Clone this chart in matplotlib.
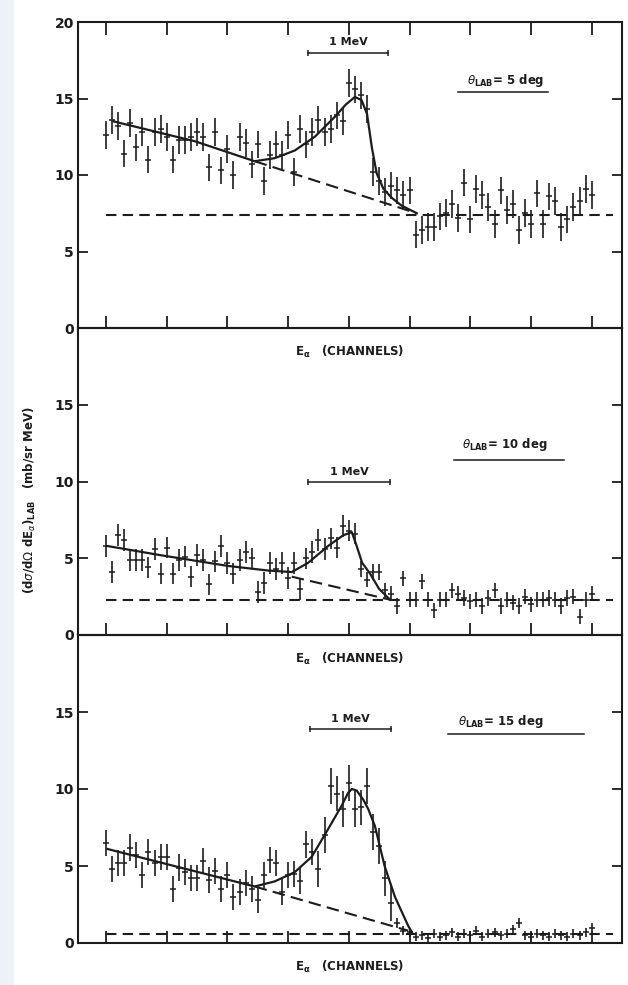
import numpy as np
import matplotlib.pyplot as plt
from matplotlib.patches import Rectangle

# channel index of each measured point
channel = np.arange(81)

# theta_lab = 5 deg
counts_5 = [12.6, 13.6, 13.2, 11.4, 13.4, 11.8, 12.8, 11.0, 12.8, 13.0,
            12.5, 11.0, 12.3, 12.3, 12.5, 12.8, 12.5, 10.5, 12.8, 10.3,
            11.7, 10.0, 12.5, 12.1, 10.7, 12.0, 9.6, 11.3, 12.0, 11.3,
            12.6, 10.2, 13.0, 12.0, 12.8, 13.6, 12.8, 13.0, 13.9, 13.5,
            16.0, 15.6, 15.2, 14.3, 10.2, 9.6, 8.9, 9.3, 9.0, 8.7,
            9.0, 6.1, 6.4, 6.6, 6.6, 7.3, 7.5, 8.1, 7.2, 9.5,
            7.1, 9.1, 8.7, 7.9, 6.8, 9.0, 7.7, 8.1, 6.4, 7.5,
            6.8, 8.8, 6.8, 8.6, 8.3, 6.6, 7.1, 7.9, 8.3, 9.1, 8.7]
err_5 = [0.9] * 81

# theta_lab = 10 deg
counts_10 = [5.8, 4.1, 6.5, 6.2, 4.9, 4.9, 4.9, 4.4, 5.6, 4.0,
             5.7, 4.0, 4.9, 5.1, 3.8, 5.2, 4.9, 3.3, 4.8, 5.8,
             4.7, 4.0, 4.9, 5.4, 5.0, 2.8, 3.4, 4.7, 4.3, 4.7,
             3.7, 4.7, 3.0, 5.0, 5.4, 6.2, 5.6, 6.3, 5.7, 7.1,
             6.8, 6.6, 4.3, 3.6, 4.1, 4.1, 2.9, 2.7, 1.9, 3.7,
             2.3, 2.3, 3.5, 2.3, 1.6, 2.3, 2.3, 2.9, 2.7, 2.4,
             2.2, 2.3, 1.9, 2.4, 2.9, 1.9, 2.3, 2.1, 1.9, 2.5,
             2.0, 2.3, 2.3, 2.4, 2.3, 1.9, 2.4, 2.5, 1.2, 2.3, 2.7]
err_10 = [0.7] * 42 + [0.5] * 39

# theta_lab = 15 deg
counts_15 = [6.5, 4.8, 5.2, 5.2, 6.2, 5.7, 4.4, 5.9, 5.2, 5.6,
             5.6, 3.5, 4.9, 4.6, 4.2, 4.2, 5.3, 4.1, 4.7, 3.5,
             4.4, 3.0, 3.3, 3.9, 3.5, 2.8, 4.4, 5.4, 5.2, 3.3,
             4.4, 4.5, 4.0, 6.4, 5.9, 4.8, 7.0, 10.2, 9.7, 8.7,
             10.4, 8.7, 8.8, 10.2, 7.2, 6.3, 4.2, 2.6, 1.3, 0.8,
             0.7, 0.4, 0.5, 0.3, 0.6, 0.4, 0.5, 0.7, 0.4, 0.6,
             0.5, 0.8, 0.4, 0.6, 0.7, 0.5, 0.6, 0.9, 1.3, 0.5,
             0.4, 0.6, 0.5, 0.4, 0.6, 0.5, 0.4, 0.6, 0.5, 0.7, 1.0]
err_15 = [0.85] * 35 + [1.15] * 13 + [0.3] * 33

# hand-drawn fits (channel, value)
fit_x_5 = [1.3, 14.7, 24.5, 27.8, 31.1, 34.4, 37.7, 39.5, 41.0, 42.1, 43.0,
           43.8, 44.6, 45.7, 47.1, 48.7, 51.2]
fit_y_5 = [13.5, 12.2, 10.9, 11.1, 11.6, 12.5, 13.8, 14.6, 15.1, 14.9, 14.0,
           11.8, 10.1, 9.1, 8.5, 8.0, 7.5]
fit_x_10 = [0.2, 9.0, 20.1, 26.7, 30.6, 33.3, 36.6, 39.1, 40.5, 41.3, 42.2,
            43.5, 45.0, 46.8]
fit_y_10 = [5.8, 5.2, 4.5, 4.2, 4.1, 4.7, 5.8, 6.5, 6.7, 5.8, 4.7,
            4.0, 3.0, 2.3]
fit_x_15 = [0.3, 24.5, 27.8, 31.1, 33.9, 36.6, 38.8, 39.9, 40.5, 41.3, 42.4,
            43.2, 44.3, 45.9, 47.6, 49.8, 50.4]
fit_y_15 = [6.1, 3.67, 4.0, 4.6, 5.6, 7.4, 8.9, 9.75, 10.0, 9.9, 9.3,
            8.7, 7.6, 5.0, 3.0, 1.1, 0.7]

# sloped background (dashed) and flat background level
slope_x = [[24.5, 51.2], [30.6, 46.8], [24.5, 49.8]]
slope_y = [[10.9, 7.5], [3.8, 2.3], [3.67, 0.8]]
flat_level = [7.4, 2.25, 0.6]

angles = ['5', '10', '15']

panels = [
    (counts_5, err_5, fit_x_5, fit_y_5),
    (counts_10, err_10, fit_x_10, fit_y_10),
    (counts_15, err_15, fit_x_15, fit_y_15),
]

# layout (pixel-derived)
W, H = 628, 985
bottoms_px = [328, 635, 943]
tops_px = [22, 328, 635]
left_px, right_px = 78, 622
mev_pos = [(33.3, 46.5, 18.0), (33.3, 46.8, 9.95), (33.6, 47.0, 13.9)]
theta_pos = [(65.9, 16.2, 58.0, 72.8, 15.4),
             (65.7, 12.4, 57.3, 75.5, 11.4),
             (65.1, 14.4, 56.3, 78.7, 13.55)]
ink = '#1c1c1c'

fig = plt.figure(figsize=(W / 100, H / 100), dpi=100)
fig.patches.append(Rectangle((0, 0), 13 / W, 1, transform=fig.transFigure,
                             color='#edf2f9', zorder=-1))

for i, (y, e, fx, fy) in enumerate(panels):
    b = 1 - bottoms_px[i] / H
    h = (bottoms_px[i] - tops_px[i]) / H
    ax = fig.add_axes([left_px / W, b, (right_px - left_px) / W, h])
    ax.patch.set_alpha(0)

    ax.errorbar(channel, y, yerr=e, fmt='_', color=ink, ms=4, mew=1.1,
                elinewidth=1.2, capsize=0)
    ax.plot(fx, fy, color=ink, lw=1.6)
    ax.plot(slope_x[i], slope_y[i], color=ink, lw=1.5, dashes=(6, 3))
    ax.plot([0, 83.5], [flat_level[i]] * 2, color=ink, lw=1.5, dashes=(5, 3))

    # 1 MeV scale bar
    x1, x2, yb = mev_pos[i]
    ax.plot([x1, x2], [yb, yb], color=ink, lw=1.1, marker='|', ms=5, mew=1.1)
    ax.text((x1 + x2) / 2, yb + 0.35, '1 MeV', ha='center', va='bottom',
            fontsize=8, fontweight='bold', color=ink)

    # angle label with underline
    tx, ty, ux1, ux2, uy = theta_pos[i]
    ax.text(tx, ty, r'$\theta_{\mathbf{LAB}}$= ' + angles[i] + ' deg',
            ha='center', va='center', fontsize=8.5, fontweight='bold',
            color=ink)
    ax.plot([ux1, ux2], [uy, uy], color=ink, lw=1.1)

    ax.set_xlim(-4.6, 85.0)
    ax.set_ylim(0, 20)
    ax.set_xticks(np.arange(0, 81, 10))
    if i == 0:
        ax.set_yticks([0, 5, 10, 15, 20])
    else:
        ax.set_yticks([0, 5, 10, 15])
    ax.tick_params(axis='x', direction='in', top=(i == 0), bottom=True,
                   labelbottom=False, length=9, width=1.3, color=ink)
    ax.tick_params(axis='y', direction='in', left=True, right=True,
                   length=7, width=1.3, labelsize=10, pad=3, color=ink,
                   labelcolor=ink)
    for lab in ax.get_yticklabels():
        lab.set_fontweight('bold')
    for s in ax.spines.values():
        s.set_linewidth(1.5)
        s.set_color(ink)

    ax.text(0.5, -24 / (bottoms_px[i] - tops_px[i]),
            r'E$_\mathbf{\alpha}$   (CHANNELS)', transform=ax.transAxes,
            ha='center', va='center', fontsize=8.5, fontweight='bold',
            color=ink, clip_on=False)

fig.text(30 / W, 1 - 500 / H,
         r'(d$\sigma$/d$\Omega$ dE$_\alpha$)$_{\mathbf{LAB}}$   (mb/sr MeV)',
         rotation=90, ha='center', va='center', fontsize=8.5,
         fontweight='bold', color=ink)

fig.savefig('out.png', dpi=100, facecolor='white')
